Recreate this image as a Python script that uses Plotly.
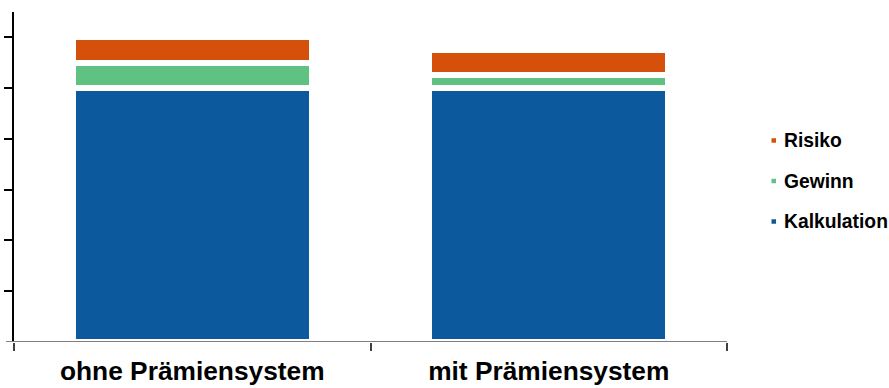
import plotly.graph_objects as go

# Data
categories = ["ohne Prämiensystem", "mit Prämiensystem"]
kalkulation = [100, 100]
gewinn = [10, 5]
risiko = [10, 10]
series_names = ["Kalkulation", "Gewinn", "Risiko"]
series_values = [kalkulation, gewinn, risiko]
series_colors = ["#0D599D", "#5FC283", "#D5500A"]
y_ticks = [20, 40, 60, 80, 100, 120]

W, H = 889, 388
ML, MR, MT, MB = 14, 162, 12, 46
PW, PH = W - ML - MR, H - MT - MB


def px_x(px):
    return (px - ML) / PW


def px_y(py):
    return 1 - (py - MT) / PH


FONT = "Arial, Liberation Sans, sans-serif"

fig = go.Figure()
for name, vals, col in zip(series_names, series_values, series_colors):
    fig.add_bar(
        x=categories, y=vals, name=name, showlegend=False,
        marker=dict(color=col, line=dict(color="white", width=6)),
    )

# Custom legend: small square swatches with bold labels, top item = last series
shapes = []
annotations = []
legend_top, legend_step = 140.5, 40.5
for i, (name, col) in enumerate(zip(reversed(series_names), reversed(series_colors))):
    cy = legend_top + i * legend_step
    shapes.append(dict(
        type="rect", xref="paper", yref="paper",
        x0=px_x(771.5), x1=px_x(776), y0=px_y(cy + 2.25), y1=px_y(cy - 2.25),
        fillcolor=col, line=dict(width=0),
    ))
    annotations.append(dict(
        text=name, xref="paper", yref="paper", x=px_x(782), y=px_y(cy),
        xanchor="left", yanchor="middle", showarrow=False,
        font=dict(family=FONT, size=19.3, color="#000000", weight="bold"),
    ))

# Category axis baseline, extending slightly left of the value axis
shapes.append(dict(
    type="line", xref="paper", yref="y", x0=px_x(6), x1=1, y0=0, y1=0,
    line=dict(color="#808080", width=2), layer="above",
))

fig.update_layout(
    width=W, height=H,
    margin=dict(l=ML, r=MR, t=MT, b=MB, pad=0),
    paper_bgcolor="white", plot_bgcolor="white",
    barmode="stack", bargap=0.33,
    showlegend=False,
    shapes=shapes, annotations=annotations,
    xaxis=dict(
        type="category", range=[-0.5, 1.5], tickson="boundaries",
        ticks="outside", ticklen=8, tickwidth=1.5, tickcolor="#404040",
        showline=False, showgrid=False, zeroline=False, automargin=False,
        ticklabelstandoff=11,
        tickfont=dict(family=FONT, size=26.3, color="#000000", weight="bold"),
    ),
    yaxis=dict(
        range=[0, 130], tickvals=y_ticks, showticklabels=False,
        ticks="outside", ticklen=8, tickwidth=1.5, tickcolor="#000000",
        showline=True, linecolor="#000000", linewidth=1.5,
        showgrid=False, zeroline=False, automargin=False,
    ),
)

fig.write_html("out.html")
